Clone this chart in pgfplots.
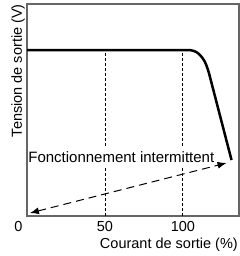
\documentclass[border=0pt]{standalone}
\usepackage{pgfplots}
\pgfplotsset{compat=1.18}
\usepackage{fontspec}
\setmainfont{Liberation Sans}
\usetikzlibrary{arrows.meta}
\begin{document}
\fontsize{14.5bp}{17bp}\selectfont
\begin{tikzpicture}
\begin{axis}[
  scale only axis, width=212bp, height=212bp,
  xmin=0, xmax=136, ymin=0, ymax=100,
  axis line style={draw=black!60, line width=1.2bp},
  ytick=\empty,
  xtick={0,50,100},
  xticklabels={\makebox[0pt][r]{0\hspace{4.5bp}},50,100},
  major tick length=0pt,
  /pgf/number format/assume math mode=true,
  tick label style={font=\fontsize{14.5bp}{17bp}\selectfont},
  clip=false,
]
\coordinate (LL) at (rel axis cs:0,0);
\coordinate (UR) at (rel axis cs:1,1);
% vertical reference lines
\addplot[black, line width=0.8bp, dash pattern=on 3bp off 2bp] coordinates {(50,0) (50,78.3)};
\addplot[black, line width=0.8bp, dash pattern=on 3bp off 2bp] coordinates {(100,0) (100,78.3)};
% output characteristic
\addplot[black, line width=2.5bp, line join=round] coordinates {
  (0,78.3) (103.2,78.3) (105.0,78.2) (106.8,77.9) (108.5,77.4) (110.0,76.6)
  (111.4,75.6) (112.7,74.4) (113.9,73.0) (114.9,71.4) (115.8,69.6) (116.7,67.5) (131.2,26.4)};
\node[fill=white, inner xsep=0bp, inner ysep=4bp, font=\fontsize{15bp}{17bp}\selectfont] at (axis cs:60.5,27.8) {Fonctionnement intermittent};
% intermittent operation arrow
\addplot[black, line width=1bp, dash pattern=on 8bp off 5bp, {Latex[length=9bp,width=7bp]}-{Latex[length=9bp,width=7bp]}] coordinates {(1.9,1.4) (128,25)};
\node[anchor=base east, inner sep=0pt] at ([xshift=-1bp,yshift=-32bp]rel axis cs:1,0) {Courant de sortie (\%)};
\node[rotate=90, anchor=base east, inner sep=0pt] at ([xshift=-5bp,yshift=0bp]rel axis cs:0,1) {Tension de sortie (V)};
\end{axis}
\pgfresetboundingbox
\path[use as bounding box] ([xshift=-27bp,yshift=-40bp]LL) rectangle ([xshift=1bp,yshift=4bp]UR);
\end{tikzpicture}
\end{document}
